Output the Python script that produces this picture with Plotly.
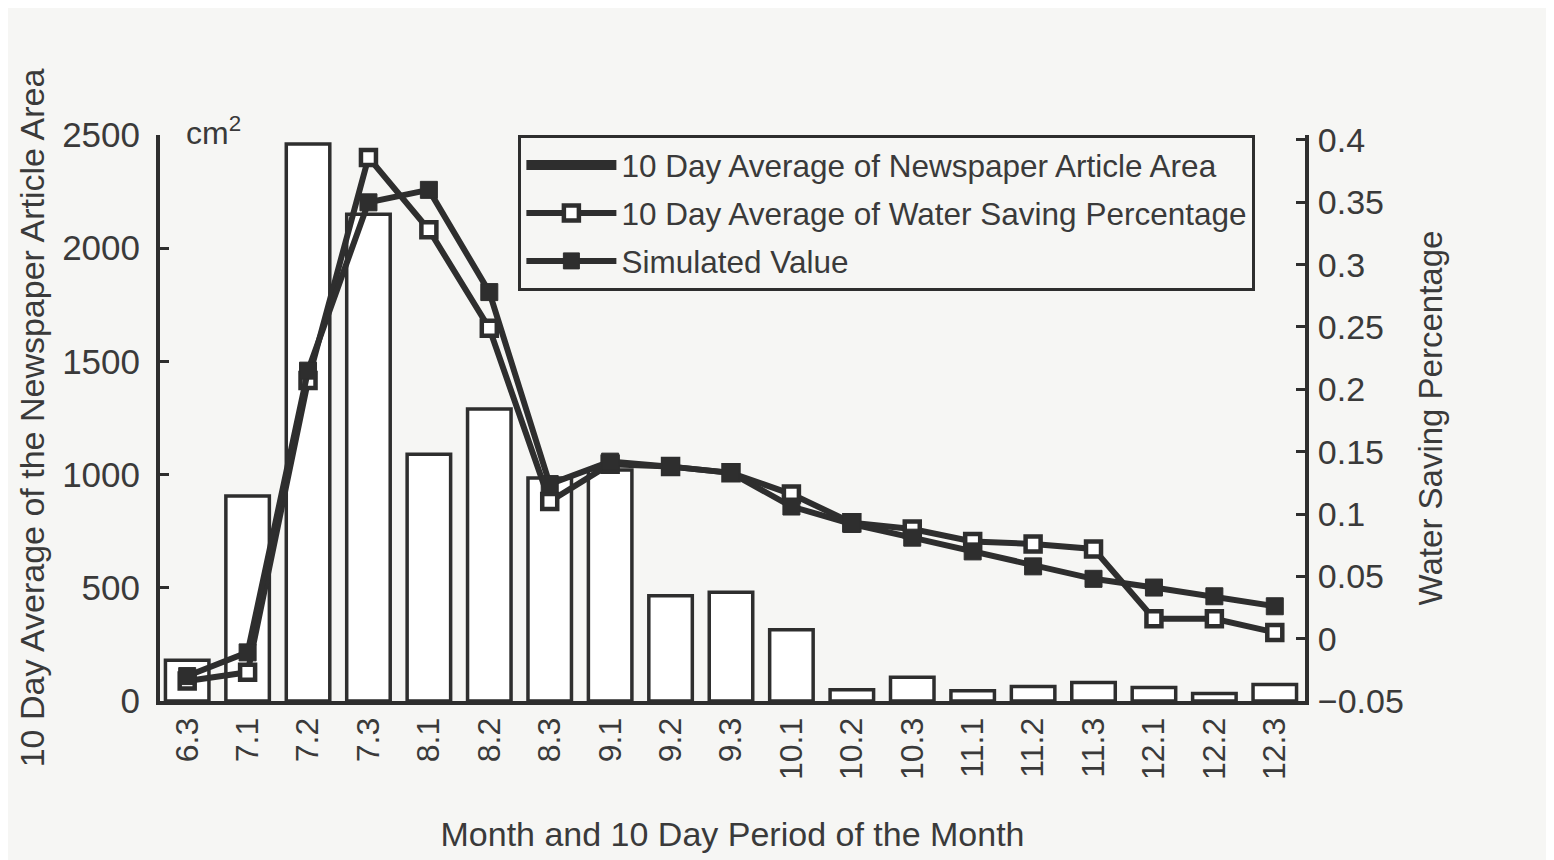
import plotly.graph_objects as go

periods = ["6.3", "7.1", "7.2", "7.3", "8.1", "8.2", "8.3", "9.1", "9.2", "9.3",
           "10.1", "10.2", "10.3", "11.1", "11.2", "11.3", "12.1", "12.2", "12.3"]
article_area = [180, 905, 2460, 2150, 1090, 1290, 985, 1020, 465, 480,
                315, 50, 105, 45, 64, 82, 60, 33, 73]
water_saving = [-0.034, -0.027, 0.207, 0.386, 0.328, 0.249, 0.110, 0.140, 0.138, 0.133,
                0.116, 0.093, 0.088, 0.078, 0.076, 0.072, 0.016, 0.016, 0.005]
simulated = [-0.030, -0.011, 0.215, 0.350, 0.360, 0.278, 0.124, 0.142, 0.138, 0.133,
             0.106, 0.092, 0.081, 0.070, 0.058, 0.048, 0.041, 0.034, 0.026]
left_ticks = [0, 500, 1000, 1500, 2000, 2500]
right_ticks = [-0.05, 0, 0.05, 0.1, 0.15, 0.2, 0.25, 0.3, 0.35, 0.4]
right_tick_text = ["\u22120.05", "0", "0.05", "0.1", "0.15", "0.2", "0.25", "0.3", "0.35", "0.4"]

ink = "#2e2e2e"
text_col = "#3a3a3a"
FONT = "Liberation Sans, Arial, sans-serif"

x_idx = list(range(len(periods)))

fig = go.Figure()
fig.add_trace(go.Bar(
    x=x_idx, y=article_area, width=0.72,
    marker=dict(color="white", line=dict(color=ink, width=3.5)),
    name="10 Day Average of Newspaper Article Area",
    legendgroup="a", showlegend=False,
))
# legend-only entry mimicking the long bar symbol of the original legend
fig.add_trace(go.Scatter(
    x=[None], y=[None], mode="lines",
    line=dict(color=ink, width=11),
    name="10 Day Average of Newspaper Article Area",
    legendgroup="a",
))
fig.add_trace(go.Scatter(
    x=x_idx, y=water_saving, yaxis="y2", mode="lines+markers",
    line=dict(color=ink, width=6),
    marker=dict(symbol="square", size=15, color="white", line=dict(color=ink, width=4.5)),
    name="10 Day Average of Water Saving Percentage", legendgroup="b",
))
fig.add_trace(go.Scatter(
    x=x_idx, y=simulated, yaxis="y2", mode="lines+markers",
    line=dict(color=ink, width=6),
    marker=dict(symbol="square", size=17, color=ink, line=dict(color=ink, width=1)),
    name="Simulated Value", legendgroup="c",
))

fig.update_layout(
    width=1546, height=852,
    paper_bgcolor="#f6f6f4", plot_bgcolor="rgba(0,0,0,0)",
    margin=dict(l=152, r=249, t=127, b=152),
    font=dict(family=FONT, size=32, color=text_col),
    showlegend=True,
    barmode="overlay",
    legend=dict(
        x=0.313, y=1.0, xanchor="left", yanchor="top",
        bgcolor="rgba(255,255,255,0)", bordercolor=ink, borderwidth=3,
        font=dict(family=FONT, size=31.5, color=text_col),
        traceorder="grouped", tracegroupgap=4, itemwidth=90,
    ),
    xaxis=dict(
        tickmode="array", tickvals=x_idx, ticktext=periods,
        tickangle=-90, range=[-0.45, 18.5],
        showline=True, linecolor=ink, linewidth=4, ticks="",
        showgrid=False, zeroline=False,
        tickfont=dict(size=32, color=text_col),
        title=dict(text="Month and 10 Day Period of the Month", standoff=44,
                   font=dict(size=34, color=text_col)),
    ),
    yaxis=dict(
        range=[0, 2500], tickmode="array", tickvals=left_ticks,
        showline=True, linecolor=ink, linewidth=4, ticks="inside",
        ticklen=9, tickwidth=3, tickcolor=ink, showgrid=False, zeroline=False,
        ticklabelstandoff=9,
        tickfont=dict(size=35, color=text_col),
        title=dict(text="10 Day Average of the Newspaper Article Area", standoff=8,
                   font=dict(size=34, color=text_col)),
    ),
    yaxis2=dict(
        overlaying="y", side="right",
        range=[-0.05, 0.404], tickmode="array", tickvals=right_ticks,
        ticktext=right_tick_text,
        showline=True, linecolor=ink, linewidth=4, ticks="inside",
        ticklen=9, tickwidth=3, tickcolor=ink, showgrid=False, zeroline=False,
        ticklabelstandoff=2,
        tickfont=dict(size=34, color=text_col),
        title=dict(text="Water Saving Percentage", standoff=17,
                   font=dict(size=33, color=text_col)),
    ),
    annotations=[dict(
        text="cm<sup>2</sup>", xref="paper", yref="paper", x=0.021, y=1.0,
        xanchor="left", yanchor="bottom", showarrow=False,
        font=dict(size=32, color=text_col), yshift=-18,
    )],
)

fig.write_html("out.html")
